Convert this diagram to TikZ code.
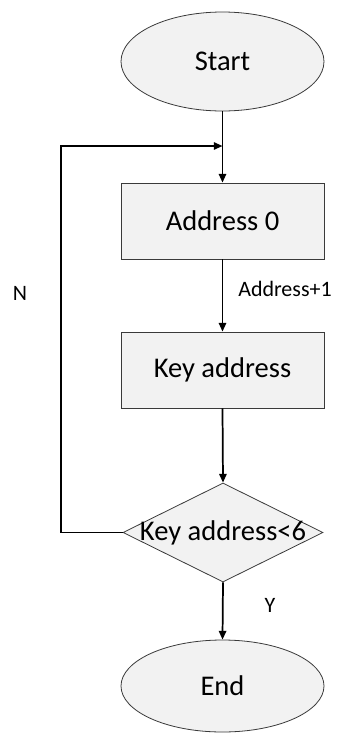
\documentclass[tikz,border=0pt]{standalone}
\usepackage{fontspec}
\setmainfont{Carlito}
\usetikzlibrary{shapes.geometric,arrows.meta}
\definecolor{boxfill}{HTML}{F2F2F2}
\definecolor{boxline}{HTML}{3A3A3A}
\tikzset{
  shapebase/.style={draw=boxline, line width=0.6pt, fill=boxfill, inner sep=0pt, font=\fontsize{21.4}{25}\selectfont},
  terminal/.style={shapebase, ellipse, minimum width=152.25pt},
  procbox/.style={shapebase, rectangle, minimum width=152.25pt, minimum height=57pt},
  decision/.style={shapebase, diamond, minimum width=150pt, minimum height=74.25pt},
  flow/.style={line width=1.3pt, -{Triangle[length=6.5pt,width=5.5pt]}},
  lbl/.style={inner sep=0pt, font=\fontsize{16.5}{20}\selectfont}
}
\begin{document}
\begin{tikzpicture}[x=0.75pt, y=-0.75pt]
\useasboundingbox (0,0) rectangle (337,733);
\node[terminal, minimum height=74.25pt] (start) at (222.5,61.5) {Start};
\node[procbox] (addr) at (222.5,221) {Address 0};
\node[procbox] (key) at (222.5,370) {Key address};
\node[decision, label={[font=\fontsize{21.4}{25}\selectfont]center:Key address<6}] (dec) at (223,532.5) {};
\node[terminal, minimum height=69pt] (end) at (222.5,686) {End};
\coordinate (join) at (222.5,146);
\coordinate (lb) at (61,532.5);
\coordinate (lt) at (61,146);
\draw[flow] (start.south) -- (addr.north);
\draw[flow] (addr.south) -- (key.north);
\draw[flow] (key.south) -- (dec.north);
\draw[flow] (dec.south) -- (end.north);
\draw[flow] (dec.west) -- (lb) -- (lt) -- (join);
\node[lbl, anchor=west] (inc) at (238,289) {Address+1};
\node[lbl] (nlab) at (20,293) {N};
\node[lbl] (ylab) at (270,605) {Y};
\end{tikzpicture}
\end{document}
